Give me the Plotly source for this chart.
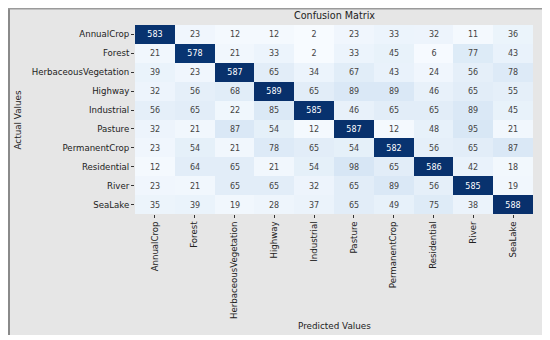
import plotly.graph_objects as go

classes = ["AnnualCrop", "Forest", "HerbaceousVegetation", "Highway", "Industrial",
           "Pasture", "PermanentCrop", "Residential", "River", "SeaLake"]

row_annualcrop = [583, 23, 12, 12, 2, 23, 33, 32, 11, 36]
row_forest = [21, 578, 21, 33, 2, 33, 45, 6, 77, 43]
row_herbaceous = [39, 23, 587, 65, 34, 67, 43, 24, 56, 78]
row_highway = [32, 56, 68, 589, 65, 89, 89, 46, 65, 55]
row_industrial = [56, 65, 22, 85, 585, 46, 65, 65, 89, 45]
row_pasture = [32, 21, 87, 54, 12, 587, 12, 48, 95, 21]
row_permanent = [23, 54, 21, 78, 65, 54, 582, 56, 65, 87]
row_residential = [12, 64, 65, 21, 54, 98, 65, 586, 42, 18]
row_river = [23, 21, 65, 65, 32, 65, 89, 56, 585, 19]
row_sealake = [35, 39, 19, 28, 37, 65, 49, 75, 38, 588]

matrix = [row_annualcrop, row_forest, row_herbaceous, row_highway, row_industrial,
          row_pasture, row_permanent, row_residential, row_river, row_sealake]

FONT = "DejaVu Sans"

fig = go.Figure(go.Heatmap(
    z=matrix, x=classes, y=classes,
    colorscale="Blues", showscale=False,
    texttemplate="%{z}", textfont=dict(family=FONT, size=8),
    hoverongaps=False,
))

# page is offset by the 8px body margin
OFF = 8
W, H = 550 - OFF, 340 - OFF
L, T = 135 - OFF, 25 - OFF
R = W - (533 - OFF)
B = H - (214 - OFF)
pw, ph = W - L - R, H - T - B

def px_x(p):
    return (p - OFF - L) / pw

def px_y(p):
    return (H - B - (p - OFF)) / ph

fig.add_shape(type="rect", xref="paper", yref="paper",
              x0=px_x(8), x1=px_x(546), y0=px_y(335), y1=px_y(8),
              fillcolor="#e6e6e6", line=dict(width=0), layer="below")
fig.add_shape(type="line", xref="paper", yref="paper",
              x0=px_x(9), x1=px_x(9), y0=px_y(335), y1=px_y(8),
              line=dict(color="#8a8a8a", width=2), layer="below")
fig.add_shape(type="line", xref="paper", yref="paper",
              x0=px_x(8), x1=px_x(546), y0=px_y(8.7), y1=px_y(8.7),
              line=dict(color="#9a9a9a", width=1.5), layer="below")

fig.add_annotation(text="Confusion Matrix", xref="paper", yref="paper",
                   x=0.5, y=px_y(16), yanchor="middle", showarrow=False,
                   font=dict(family=FONT, size=9.6, color="#222"))
fig.add_annotation(text="Predicted Values", xref="paper", yref="paper",
                   x=0.5, y=px_y(326), yanchor="middle", showarrow=False,
                   font=dict(family=FONT, size=8.8, color="#222"))
fig.add_annotation(text="Actual Values", xref="paper", yref="paper",
                   x=px_x(17), xanchor="center", y=0.5, showarrow=False, textangle=-90,
                   font=dict(family=FONT, size=8.8, color="#222"))

fig.update_xaxes(tickangle=-90, ticks="outside", ticklen=3, tickcolor="#333",
                 tickfont=dict(family=FONT, size=8.6, color="#222"),
                 showgrid=False, zeroline=False, automargin=False)
fig.update_yaxes(autorange="reversed", ticks="outside", ticklen=3, tickcolor="#333",
                 tickfont=dict(family=FONT, size=8.6, color="#222"),
                 showgrid=False, zeroline=False, automargin=False)

fig.update_layout(width=W, height=H, margin=dict(l=L, r=R, t=T, b=B),
                  paper_bgcolor="white", plot_bgcolor="white", showlegend=False)

fig.write_html("out.html")
